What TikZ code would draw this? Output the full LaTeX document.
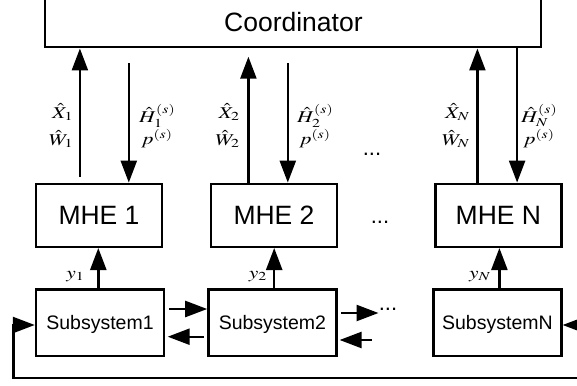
\documentclass[tikz,border=0pt]{standalone}
\usepackage{mathptmx}
\usepackage{graphicx}
\usepackage{fontspec}
\setmainfont{Liberation Sans}
\usetikzlibrary{arrows.meta,calc}
\newcommand{\hstr}[1]{\scalebox{1.3}[1]{#1}}
\begin{document}
\begin{tikzpicture}[x=1pt,y=-1pt,
  box/.style={draw,line width=2.4pt,inner sep=0pt},
  arr/.style={line width=2.4pt,-{Triangle[length=22pt,width=16pt]}},
  lbl/.style={font=\fontsize{16.5}{20}\selectfont,inner sep=0pt},
  big/.style={font=\fontsize{26.5}{30}\selectfont},
  dts/.style={font=\fontsize{22}{26}\selectfont,inner sep=0pt,anchor=base},
  mid/.style={font=\fontsize{19.5}{22}\selectfont},
  mhe/.style={box,big,minimum width=126pt,minimum height=63pt},
  sub/.style={box,mid,minimum width=128pt,minimum height=66.7pt,text depth=0pt}]
\useasboundingbox (0,0) rectangle (577,385);
% coordinator
\node[box,minimum width=496pt,minimum height=60pt] (coordbox) at (293,17.3) {};
\node[big,anchor=base,inner sep=0pt] (coordtxt) at (293.4,31.7) {Coordinator};
% MHE
\node[mhe] (mhe1) at (99,215.3) {MHE 1};
\node[mhe] (mhe2) at (274,215.3) {MHE 2};
\node[mhe] (mheN) at (498.4,215.3) {MHE N};
\node[dts] (dotsM) at (380,223) {...};
\node[dts] (dotsT) at (372,155) {...};
% subsystems
\node[sub] (sub1) at (100,322.7) {Subsystem1};
\node[sub] (sub2) at (272.4,322.7) {Subsystem2};
\node[sub] (subN) at (497.4,322.7) {SubsystemN};
\node[dts] (dotsS) at (388,310) {...};
% coordinator arrows
\coordinate (u1s) at (79.9,176.7);
\draw[arr] (u1s) -- (u1s |- coordbox.south);
\coordinate (d1s) at (128.8,63.3);
\draw[arr] (d1s) -- (d1s |- mhe1.north);
\coordinate (u2e) at (248.4,56.7);
\draw[arr] (u2e |- mhe2.north) -- (u2e);
\coordinate (d2s) at (287.8,63.3);
\draw[arr] (d2s) -- (d2s |- mhe2.north);
\coordinate (uN) at (477.4,100);
\draw[arr] (uN |- mheN.north) -- (uN |- coordbox.south);
\coordinate (dN) at (517.1,100);
\draw[arr] (dN |- coordbox.south) -- (dN |- mheN.north);
% labels
\node[lbl,anchor=base east] (lx1) at (73.5,118) {\hstr{$\hat{X}_{1}$}};
\node[lbl,anchor=base east] (lw1) at (73.5,145) {\hstr{$\hat{W}_{1}$}};
\node[lbl,anchor=base west] (lh1) at (139,122) {\hstr{$\hat{H}_{1}^{(s)}$}};
\node[lbl,anchor=base west] (lp1) at (141,144) {\hstr{$p^{(s)}$}};
\node[lbl,anchor=base east] (lx2) at (240,118) {\hstr{$\hat{X}_{2}$}};
\node[lbl,anchor=base east] (lw2) at (240,145) {\hstr{$\hat{W}_{2}$}};
\node[lbl,anchor=base west] (lh2) at (297,122) {\hstr{$\hat{H}_{2}^{(s)}$}};
\node[lbl,anchor=base west] (lp2) at (299,144) {\hstr{$p^{(s)}$}};
\node[lbl,anchor=base east] (lxN) at (470,118) {\hstr{$\hat{X}_{N}$}};
\node[lbl,anchor=base east] (lwN) at (470,145) {\hstr{$\hat{W}_{N}$}};
\node[lbl,anchor=base west] (lhN) at (521,122) {\hstr{$\hat{H}_{N}^{(s)}$}};
\node[lbl,anchor=base west] (lpN) at (523,144) {\hstr{$p^{(s)}$}};
% y arrows
\coordinate (y1x) at (98.3,300);
\draw[arr] (y1x |- sub1.north) -- (y1x |- mhe1.south);
\coordinate (y2x) at (274.2,300);
\draw[arr] (y2x |- sub2.north) -- (y2x |- mhe2.south);
\coordinate (yNx) at (499.4,300);
\draw[arr] (yNx |- subN.north) -- (yNx |- mheN.south);
\node[lbl,anchor=base] (ly1) at (75.5,278) {\hstr{$y_{1}$}};
\node[lbl,anchor=base] (ly2) at (258,278) {\hstr{$y_{2}$}};
\node[lbl,anchor=base] (lyN) at (480,278) {\hstr{$y_{N}$}};
% subsystem arrows
\coordinate (a12) at (169,309);
\draw[arr] (a12) -- (a12 -| sub2.west);
\coordinate (a21) at (204,336.7);
\draw[arr] (a21) -- ($(a21 -| sub1.east)+(2.5,0)$);
\coordinate (a2o) at (341,313);
\draw[arr] (a2o) -- ($(a2o)+(37.5,0)$);
\coordinate (a2i) at (372,340);
\draw[arr] (a2i) -- ($(a2i -| sub2.east)+(2,0)$);
% feedback
\coordinate (fbR) at (585,377.7);
\coordinate (fbL) at (13.3,377.7);
\draw[arr] (fbR) -- (fbL) -- ($(fbL |- sub1.west)+(0,2.3)$) -- ($(sub1.west)+(0,2.3)$);
\coordinate (nR) at (585,325);
\draw[arr] (nR) -- (nR -| subN.east);
\end{tikzpicture}
\end{document}
